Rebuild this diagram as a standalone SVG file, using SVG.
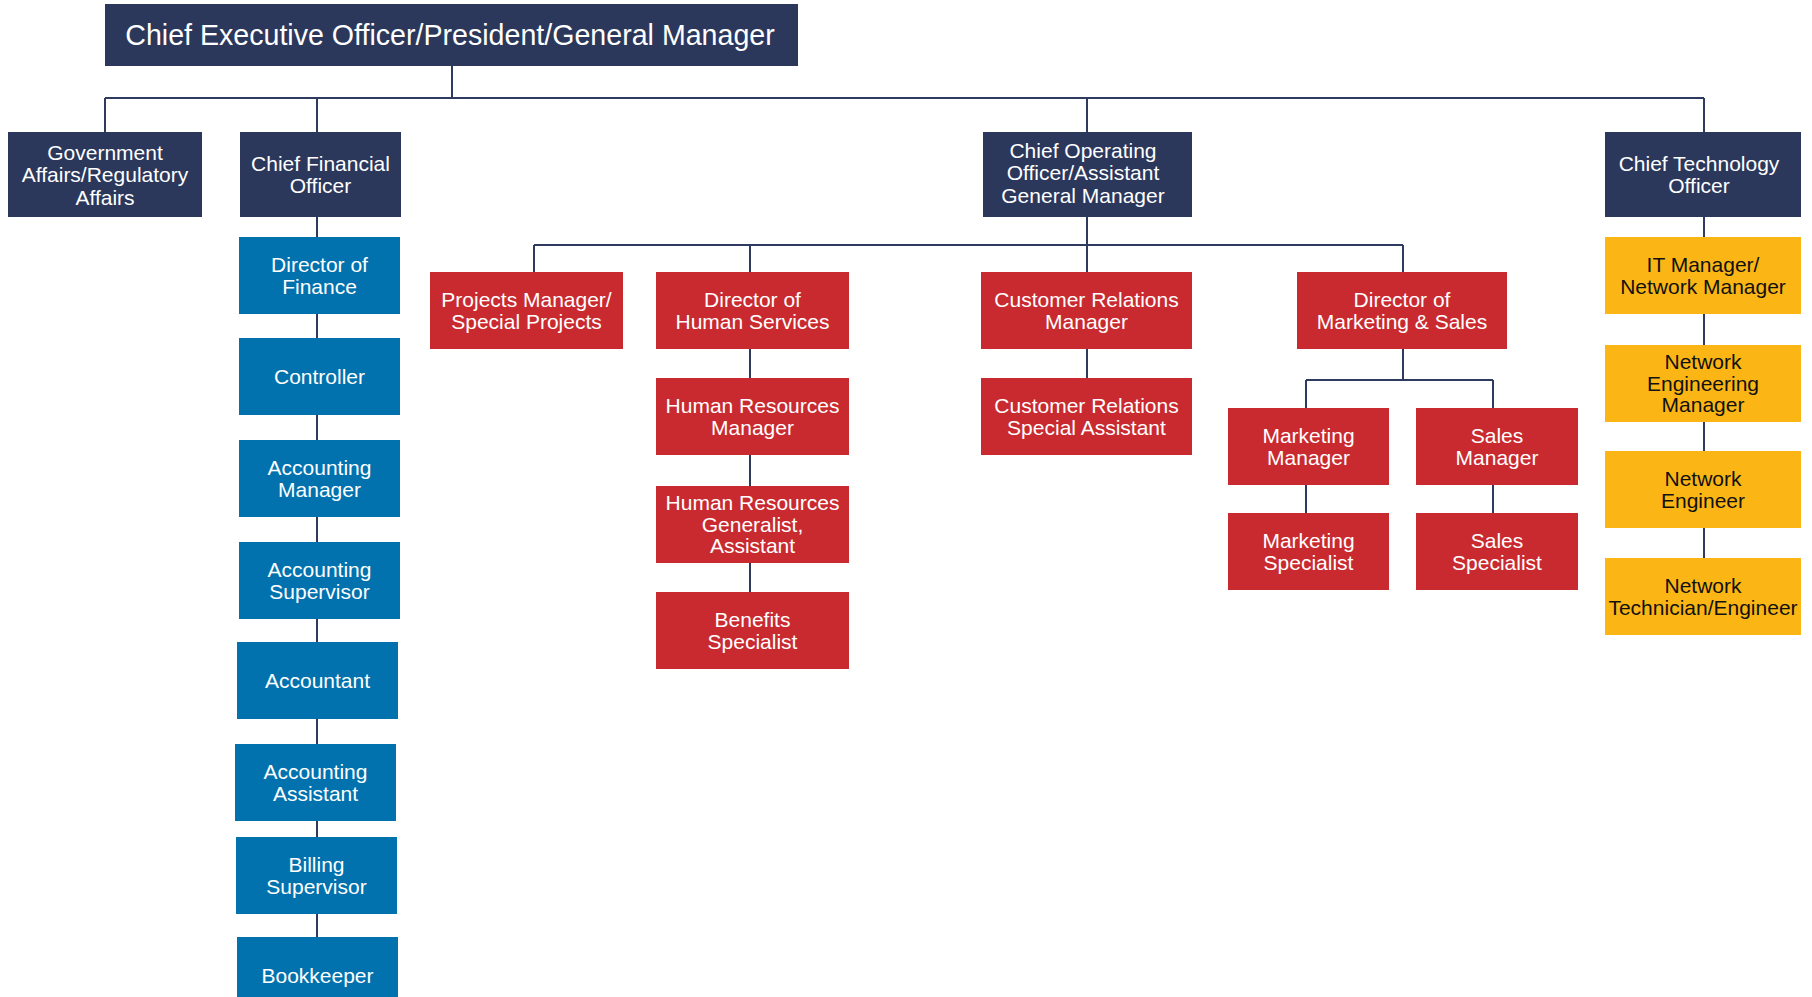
<svg xmlns="http://www.w3.org/2000/svg" width="1812" height="997" viewBox="0 0 1812 997">
<style>
.navy{fill:#2B385C}
.blue{fill:#0172AE}
.red{fill:#C92A30}
.yellow{fill:#FBB615}
text{font-family:"Liberation Sans",Arial,Helvetica,sans-serif;font-size:21px;fill:#ffffff;text-anchor:middle}
.dk{fill:#111111}
.title{font-size:28.6px}
.conn{stroke:#2E3A5E;stroke-width:2;fill:none}
</style>
<rect width="1812" height="997" fill="#ffffff"/>
<g id="connectors" class="conn">
<path d="M452 66V98M105 98H1704M105 98V132M317 98V132M1087 98V132M1704 98V132"/>
<path d="M317 217V937"/>
<path d="M1087 217V245M534 245H1403M534 245V272M750 245V272M1087 245V272M1403 245V272"/>
<path d="M750 349V592"/>
<path d="M1087 349V378"/>
<path d="M1403 349V380M1306 380H1493M1306 380V513M1493 380V513"/>
<path d="M1704 217V558"/>
</g>
<g id="ceo"><rect class="navy" x="105" y="4" width="693" height="62"/><text class="title" x="450" y="45">Chief Executive Officer/President/General Manager</text></g>
<g id="gov"><rect class="navy" x="8" y="132" width="194" height="85"/><text x="105" y="159.5">Government</text><text x="105" y="182">Affairs/Regulatory</text><text x="105" y="204.5">Affairs</text></g>
<g id="cfo"><rect class="navy" x="240" y="132" width="161" height="85"/><text x="320.5" y="171">Chief Financial</text><text x="320.5" y="192.5">Officer</text></g>
<g id="coo"><rect class="navy" x="983" y="132" width="209" height="85"/><text x="1083" y="157.5">Chief Operating</text><text x="1083" y="180">Officer/Assistant</text><text x="1083" y="202.5">General Manager</text></g>
<g id="cto"><rect class="navy" x="1605" y="132" width="196" height="85"/><text x="1699" y="170.5">Chief Technology</text><text x="1699" y="193">Officer</text></g>
<g id="dir-finance"><rect class="blue" x="239" y="237" width="161" height="77"/><text x="319.5" y="272">Director of</text><text x="319.5" y="293.5">Finance</text></g>
<g id="controller"><rect class="blue" x="239" y="338" width="161" height="77"/><text x="319.5" y="383.8">Controller</text></g>
<g id="acc-manager"><rect class="blue" x="239" y="440" width="161" height="77"/><text x="319.5" y="475">Accounting</text><text x="319.5" y="496.5">Manager</text></g>
<g id="acc-supervisor"><rect class="blue" x="239" y="542" width="161" height="77"/><text x="319.5" y="577">Accounting</text><text x="319.5" y="598.5">Supervisor</text></g>
<g id="accountant"><rect class="blue" x="237" y="642" width="161" height="77"/><text x="317.5" y="687.8">Accountant</text></g>
<g id="acc-assistant"><rect class="blue" x="235" y="744" width="161" height="77"/><text x="315.5" y="779">Accounting</text><text x="315.5" y="800.5">Assistant</text></g>
<g id="billing"><rect class="blue" x="236" y="837" width="161" height="77"/><text x="316.5" y="872">Billing</text><text x="316.5" y="893.5">Supervisor</text></g>
<g id="bookkeeper"><rect class="blue" x="237" y="937" width="161" height="77"/><text x="317.5" y="982.8">Bookkeeper</text></g>
<g id="projects"><rect class="red" x="430" y="272" width="193" height="77"/><text x="526.5" y="307">Projects Manager/</text><text x="526.5" y="328.5">Special Projects</text></g>
<g id="dir-hs"><rect class="red" x="656" y="272" width="193" height="77"/><text x="752.5" y="307">Director of</text><text x="752.5" y="328.5">Human Services</text></g>
<g id="hr-manager"><rect class="red" x="656" y="378" width="193" height="77"/><text x="752.5" y="413">Human Resources</text><text x="752.5" y="434.5">Manager</text></g>
<g id="hr-generalist"><rect class="red" x="656" y="486" width="193" height="77"/><text x="752.5" y="510.3">Human Resources</text><text x="752.5" y="531.8">Generalist,</text><text x="752.5" y="553.3">Assistant</text></g>
<g id="benefits"><rect class="red" x="656" y="592" width="193" height="77"/><text x="752.5" y="627">Benefits</text><text x="752.5" y="648.5">Specialist</text></g>
<g id="cr-manager"><rect class="red" x="981" y="272" width="211" height="77"/><text x="1086.5" y="307">Customer Relations</text><text x="1086.5" y="328.5">Manager</text></g>
<g id="cr-assistant"><rect class="red" x="981" y="378" width="211" height="77"/><text x="1086.5" y="413">Customer Relations</text><text x="1086.5" y="434.5">Special Assistant</text></g>
<g id="dir-ms"><rect class="red" x="1297" y="272" width="210" height="77"/><text x="1402" y="307">Director of</text><text x="1402" y="328.5">Marketing &amp; Sales</text></g>
<g id="mkt-manager"><rect class="red" x="1228" y="408" width="161" height="77"/><text x="1308.5" y="443">Marketing</text><text x="1308.5" y="464.5">Manager</text></g>
<g id="sales-manager"><rect class="red" x="1416" y="408" width="162" height="77"/><text x="1497" y="443">Sales</text><text x="1497" y="464.5">Manager</text></g>
<g id="mkt-specialist"><rect class="red" x="1228" y="513" width="161" height="77"/><text x="1308.5" y="548">Marketing</text><text x="1308.5" y="569.5">Specialist</text></g>
<g id="sales-specialist"><rect class="red" x="1416" y="513" width="162" height="77"/><text x="1497" y="548">Sales</text><text x="1497" y="569.5">Specialist</text></g>
<g id="it-manager"><rect class="yellow" x="1605" y="237" width="196" height="77"/><text class="dk" x="1703" y="272">IT Manager/</text><text class="dk" x="1703" y="293.5">Network Manager</text></g>
<g id="net-eng-manager"><rect class="yellow" x="1605" y="345" width="196" height="77"/><text class="dk" x="1703" y="369.3">Network</text><text class="dk" x="1703" y="390.8">Engineering</text><text class="dk" x="1703" y="412.3">Manager</text></g>
<g id="net-engineer"><rect class="yellow" x="1605" y="451" width="196" height="77"/><text class="dk" x="1703" y="486">Network</text><text class="dk" x="1703" y="507.5">Engineer</text></g>
<g id="net-technician"><rect class="yellow" x="1605" y="558" width="196" height="77"/><text class="dk" x="1703" y="593">Network</text><text class="dk" x="1703" y="614.5">Technician/Engineer</text></g>
</svg>
